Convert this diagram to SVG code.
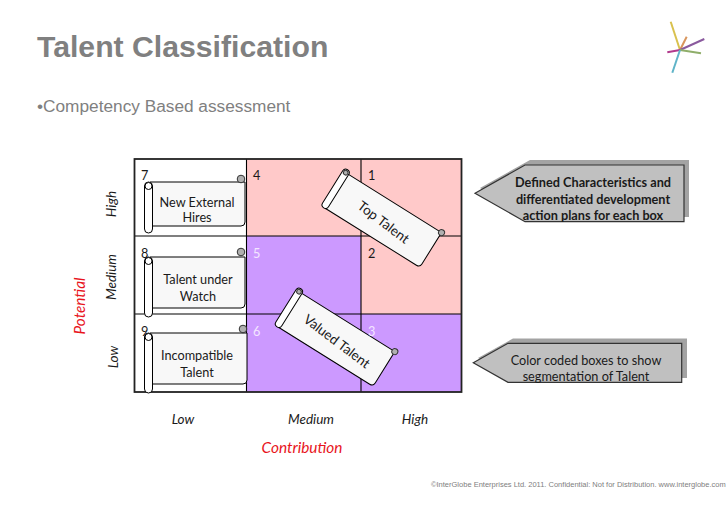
<svg xmlns="http://www.w3.org/2000/svg" width="728" height="516" viewBox="0 0 728 516">
<style>
.t{font-family:"Lato","Open Sans",sans-serif;font-size:12.700px;fill:#1a1a1a}
.c{text-anchor:middle}
.i{font-style:italic}
.a{font-size:13.500px}
.p{font-size:15.400px;fill:#e8141c}
.s{font-size:13.500px}
.b{font-weight:700}
.w{fill:#f4e6ff}
.gl{fill:none;stroke:#000;stroke-width:1.100}
.sb{fill:#f8f8f8;stroke:#000;stroke-width:1}
.sr{fill:#fff;stroke:#000;stroke-width:1}
.k{fill:#b0b0b0;stroke:#333;stroke-width:1}
.sh{fill:#a3a3a3}
.ar{fill:#c0c0c0;stroke:#333;stroke-width:1.200}
</style>
<rect width="728" height="516" fill="#fff"/>
<text x="37" y="57" font-family="Liberation Sans,Arial,sans-serif" font-size="30.200" font-weight="700" fill="#808080">Talent Classification</text>
<text x="37" y="112" font-family="Liberation Sans,Arial,sans-serif" font-size="17.250" fill="#808080">•Competency Based assessment</text>
<g id="logo" fill="none" stroke-width="2">
<path d="M680 50L670.700 21.700" stroke="#d9c14e"/>
<path d="M680 50L686.700 36.700" stroke="#d8955c"/>
<path d="M680 50L704.300 39" stroke="#8a5a9e"/>
<path d="M680 50L701 53.300" stroke="#8fae6a"/>
<path d="M680 50L667.300 52.300" stroke="#b13a8c"/>
<path d="M680 50L672.300 72.700" stroke="#5fb4c8"/>
</g>
<g id="matrix">
<rect x="134.500" y="159" width="112" height="233" fill="#fff"/>
<rect x="246.500" y="159" width="114.500" height="77" fill="#ffc9c9"/>
<rect x="361" y="159" width="100.500" height="155" fill="#ffc9c9"/>
<rect x="246.500" y="236" width="114.500" height="156" fill="#cc99ff"/>
<rect x="361" y="314" width="100.500" height="78" fill="#cc99ff"/>
<path class="gl" d="M246.500 159V392M361 159V392M134.500 236H461.500M134.500 314H461.500"/>
<rect x="134.500" y="159" width="327" height="233" fill="none" stroke="#222" stroke-width="1.800"/>
</g>
<g id="axis-labels">
<text class="t i a" transform="translate(116 204) rotate(-90)" text-anchor="middle">High</text>
<text class="t i a" transform="translate(116 277) rotate(-90)" text-anchor="middle">Medium</text>
<text class="t i a" transform="translate(118 357) rotate(-90)" text-anchor="middle">Low</text>
<text class="t i p" transform="translate(85 306) rotate(-90)" text-anchor="middle">Potential</text>
<text class="t i a c" x="183" y="424">Low</text>
<text class="t i a c" x="311" y="424">Medium</text>
<text class="t i a c" x="415" y="424">High</text>
<text class="t i p c" x="302" y="453">Contribution</text>
</g>
<g id="scroll-new-external">
<path class="sb" d="M150 182H245V222Q245 226 241 226H150Z"/>
<circle class="k" cx="241" cy="179" r="3.800"/>
<rect class="sr" x="144.500" y="182" width="8" height="51" rx="4"/>
<circle class="sr" cx="148.500" cy="186" r="3.500"/>
<text class="t c" x="197" y="207">New External</text><text class="t c" x="197" y="222">Hires</text>
</g>
<g id="scroll-under-watch">
<path class="sb" d="M150 257H245V304Q245 308 241 308H150Z"/>
<circle class="k" cx="241" cy="252" r="3.800"/>
<rect class="sr" x="144.500" y="257" width="8" height="60" rx="4"/>
<circle class="sr" cx="148.500" cy="261" r="3.500"/>
<text class="t c" x="198" y="284">Talent under</text><text class="t c" x="198" y="301">Watch</text>
</g>
<g id="scroll-incompatible">
<path class="sb" d="M150 333H247V380Q247 384 243 384H150Z"/>
<circle class="k" cx="243" cy="329" r="3.800"/>
<rect class="sr" x="144.500" y="333" width="8" height="60" rx="4"/>
<circle class="sr" cx="148.500" cy="337" r="3.500"/>
<text class="t c" x="197" y="360">Incompatible</text><text class="t c" x="197" y="377">Talent</text>
</g>
<g id="scroll-top-talent">
<g transform="translate(345.700 172.700) rotate(32)">
<path class="sb" d="M0 0H113V37Q113 41 109 41H0Z"/>
<circle class="k" cx="113" cy="0" r="3"/>
<rect class="sr" x="-3.500" y="-3.500" width="7" height="45" rx="3.500"/>
<circle class="k" cx="0" cy="0" r="2.300"/>
</g>
<text class="t c s" transform="translate(380.700 226) rotate(37)">Top Talent</text>
</g>
<g id="scroll-valued-talent">
<g transform="translate(299 291.700) rotate(32)">
<path class="sb" d="M0 0H113V37Q113 41 109 41H0Z"/>
<circle class="k" cx="113" cy="0" r="3"/>
<rect class="sr" x="-3.500" y="-3.500" width="7" height="45" rx="3.500"/>
<circle class="k" cx="0" cy="0" r="2.300"/>
</g>
<text class="t c s" transform="translate(334 345) rotate(37)">Valued Talent</text>
</g>
<g id="cell-numbers">
<text class="t" x="141" y="180">7</text><text class="t" x="253" y="180">4</text><text class="t" x="368" y="180">1</text>
<text class="t" x="141" y="258">8</text><text class="t w" x="253" y="258">5</text><text class="t" x="368" y="258">2</text>
<text class="t" x="141" y="336">9</text><text class="t w" x="253" y="336">6</text><text class="t w" x="368" y="336">3</text>
</g>
<g id="callout-characteristics">
<path class="sh" d="M480 188L530 160H689V217H530Z"/>
<path class="ar" d="M475 193.300L525 165H684V221.700H525Z"/>
<text class="t c b" x="593" y="187">Defined Characteristics and</text>
<text class="t c b" x="593" y="204">differentiated development</text>
<text class="t c b" x="593" y="220">action plans for each box</text>
</g>
<g id="callout-color">
<path class="sh" d="M478 358L513 338.500H687V378H513Z"/>
<path class="ar" d="M473.300 362.700L508 343.300H681.700V382.300H508Z"/>
<text class="t c" x="586" y="365">Color coded boxes to show</text>
<text class="t c" x="586" y="381">segmentation of Talent</text>
</g>
<text x="431" y="487" font-family="Liberation Sans,Arial,sans-serif" font-size="7.500" fill="#808080">©InterGlobe Enterprises Ltd. 2011. Confidential: Not for Distribution. www.interglobe.com</text>
</svg>
